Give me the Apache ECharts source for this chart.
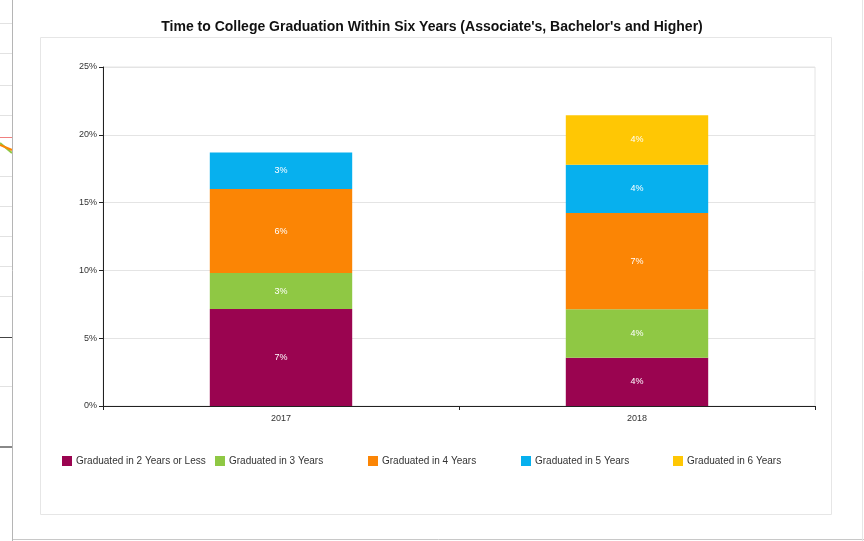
<!DOCTYPE html>
<html>
<head>
<meta charset="utf-8">
<script src="https://cdn.jsdelivr.net/npm/echarts@6/dist/echarts.min.js"></script>
<style>
  html, body { margin: 0; padding: 0; background: #fff; }
  #chart { width: 864px; height: 541px; }
</style>
</head>
<body>
<div id="chart"></div>
<script>
// Cohort years on the category axis
const years = ['2017', '2018'];

// Share of students graduating, by time to degree (percent)
const seriesNames = [
  'Graduated in 2 Years or Less',
  'Graduated in 3 Years',
  'Graduated in 4 Years',
  'Graduated in 5 Years',
  'Graduated in 6 Years'
];
const within2 = [7.15, 3.56];
const within3 = [2.65, 3.57];
const within4 = [6.2, 7.1];
const within5 = [2.7, 3.57];
const within6 = [null, 3.64];

// Value-axis ticks
const yTicks = [0, 5, 10, 15, 20, 25];

const seriesValues = [within2, within3, within4, within5, within6];
const colors = ['#9a0450', '#8fc844', '#fb8505', '#07b0ee', '#ffc704'];
const legendLeft = [62, 215, 368, 521, 673];

const chart = echarts.init(document.getElementById('chart'), null, { renderer: 'canvas' });

const font = '"Liberation Sans", Arial, Helvetica, sans-serif';

const option = {
  backgroundColor: '#ffffff',
  animation: false,
  textStyle: { fontFamily: font },
  title: {
    text: "Time to College Graduation Within Six Years (Associate's, Bachelor's and Higher)",
    left: 'center',
    top: 15,
    textStyle: { fontFamily: font, fontSize: 14, fontWeight: 'bold', color: '#111' }
  },
  legend: seriesNames.map((name, i) => ({
    data: [name],
    left: legendLeft[i],
    top: 456,
    padding: 0,
    itemWidth: 10,
    itemHeight: 10,
    itemGap: 0,
    icon: 'rect',
    selectedMode: false,
    textStyle: { fontFamily: font, fontSize: 10, color: '#333', padding: [0, 0, 0, -1] }
  })),
  grid: {
    left: 103,
    right: 49,
    top: 67,
    bottom: 135,
    show: true,
    borderColor: '#e4e4e4',
    borderWidth: 1
  },
  xAxis: {
    type: 'category',
    data: years,
    axisLine: { lineStyle: { color: '#222', width: 1 } },
    axisTick: { show: true, alignWithLabel: false, length: 4, lineStyle: { color: '#222' } },
    axisLabel: { fontFamily: font, fontSize: 9, color: '#333', margin: 8 }
  },
  yAxis: {
    type: 'value',
    min: yTicks[0],
    max: yTicks[yTicks.length - 1],
    interval: yTicks[1] - yTicks[0],
    axisLine: { show: true, lineStyle: { color: '#222', width: 1 } },
    axisTick: { show: true, length: 4, lineStyle: { color: '#222' } },
    axisLabel: { fontFamily: font, fontSize: 9, color: '#333', margin: 6, formatter: '{value}%' },
    splitLine: { lineStyle: { color: '#e4e4e4', width: 1 } }
  },
  series: seriesNames.map((name, i) => ({
    name: name,
    type: 'bar',
    stack: 'total',
    barWidth: '40%',
    data: seriesValues[i],
    itemStyle: { color: colors[i] },
    label: {
      show: true,
      position: 'inside',
      color: '#fff',
      fontFamily: font,
      fontSize: 9,
      formatter: p => Math.round(p.value) + '%'
    }
  })),
  graphic: [
    // inner chart frame
    { type: 'rect', shape: { x: 40.5, y: 37.5, width: 791, height: 477 }, style: { fill: 'none', stroke: '#e6e6e6', lineWidth: 1 }, z: -1 },
    // window edges
    { type: 'rect', shape: { x: 0, y: 0, width: 12, height: 541 }, style: { fill: '#ffffff' } },
    { type: 'line', shape: { x1: 0, y1: 23.5, x2: 12, y2: 23.5 }, style: { stroke: '#e2e2e2' } },
    { type: 'line', shape: { x1: 0, y1: 53.5, x2: 12, y2: 53.5 }, style: { stroke: '#e2e2e2' } },
    { type: 'line', shape: { x1: 0, y1: 85.5, x2: 12, y2: 85.5 }, style: { stroke: '#e2e2e2' } },
    { type: 'line', shape: { x1: 0, y1: 115.5, x2: 12, y2: 115.5 }, style: { stroke: '#e2e2e2' } },
    { type: 'line', shape: { x1: 0, y1: 137.5, x2: 12, y2: 137.5 }, style: { stroke: '#f08080' } },
    { type: 'line', shape: { x1: 0, y1: 143, x2: 12, y2: 153 }, style: { stroke: '#8fc844', lineWidth: 2 } },
    { type: 'line', shape: { x1: 0, y1: 145, x2: 12, y2: 150 }, style: { stroke: '#fb8505', lineWidth: 2 } },
    { type: 'line', shape: { x1: 0, y1: 176.5, x2: 12, y2: 176.5 }, style: { stroke: '#e2e2e2' } },
    { type: 'line', shape: { x1: 0, y1: 206.5, x2: 12, y2: 206.5 }, style: { stroke: '#e2e2e2' } },
    { type: 'line', shape: { x1: 0, y1: 236.5, x2: 12, y2: 236.5 }, style: { stroke: '#e2e2e2' } },
    { type: 'line', shape: { x1: 0, y1: 266.5, x2: 12, y2: 266.5 }, style: { stroke: '#e2e2e2' } },
    { type: 'line', shape: { x1: 0, y1: 296.5, x2: 12, y2: 296.5 }, style: { stroke: '#e2e2e2' } },
    { type: 'line', shape: { x1: 0, y1: 337.5, x2: 12, y2: 337.5 }, style: { stroke: '#444' } },
    { type: 'line', shape: { x1: 0, y1: 386.5, x2: 12, y2: 386.5 }, style: { stroke: '#e2e2e2' } },
    { type: 'line', shape: { x1: 0, y1: 447, x2: 13, y2: 447 }, style: { stroke: '#888', lineWidth: 2 } },
    { type: 'line', shape: { x1: 12.5, y1: 0, x2: 12.5, y2: 541 }, style: { stroke: '#b5b5b5', lineWidth: 1 } },
    { type: 'line', shape: { x1: 13, y1: 539.5, x2: 864, y2: 539.5 }, style: { stroke: '#c8c8c8', lineWidth: 1 } },
    { type: 'line', shape: { x1: 862.5, y1: 0, x2: 862.5, y2: 541 }, style: { stroke: '#e6e6e6', lineWidth: 1 } }
  ]
};

chart.setOption(option);
</script>
</body>
</html>
